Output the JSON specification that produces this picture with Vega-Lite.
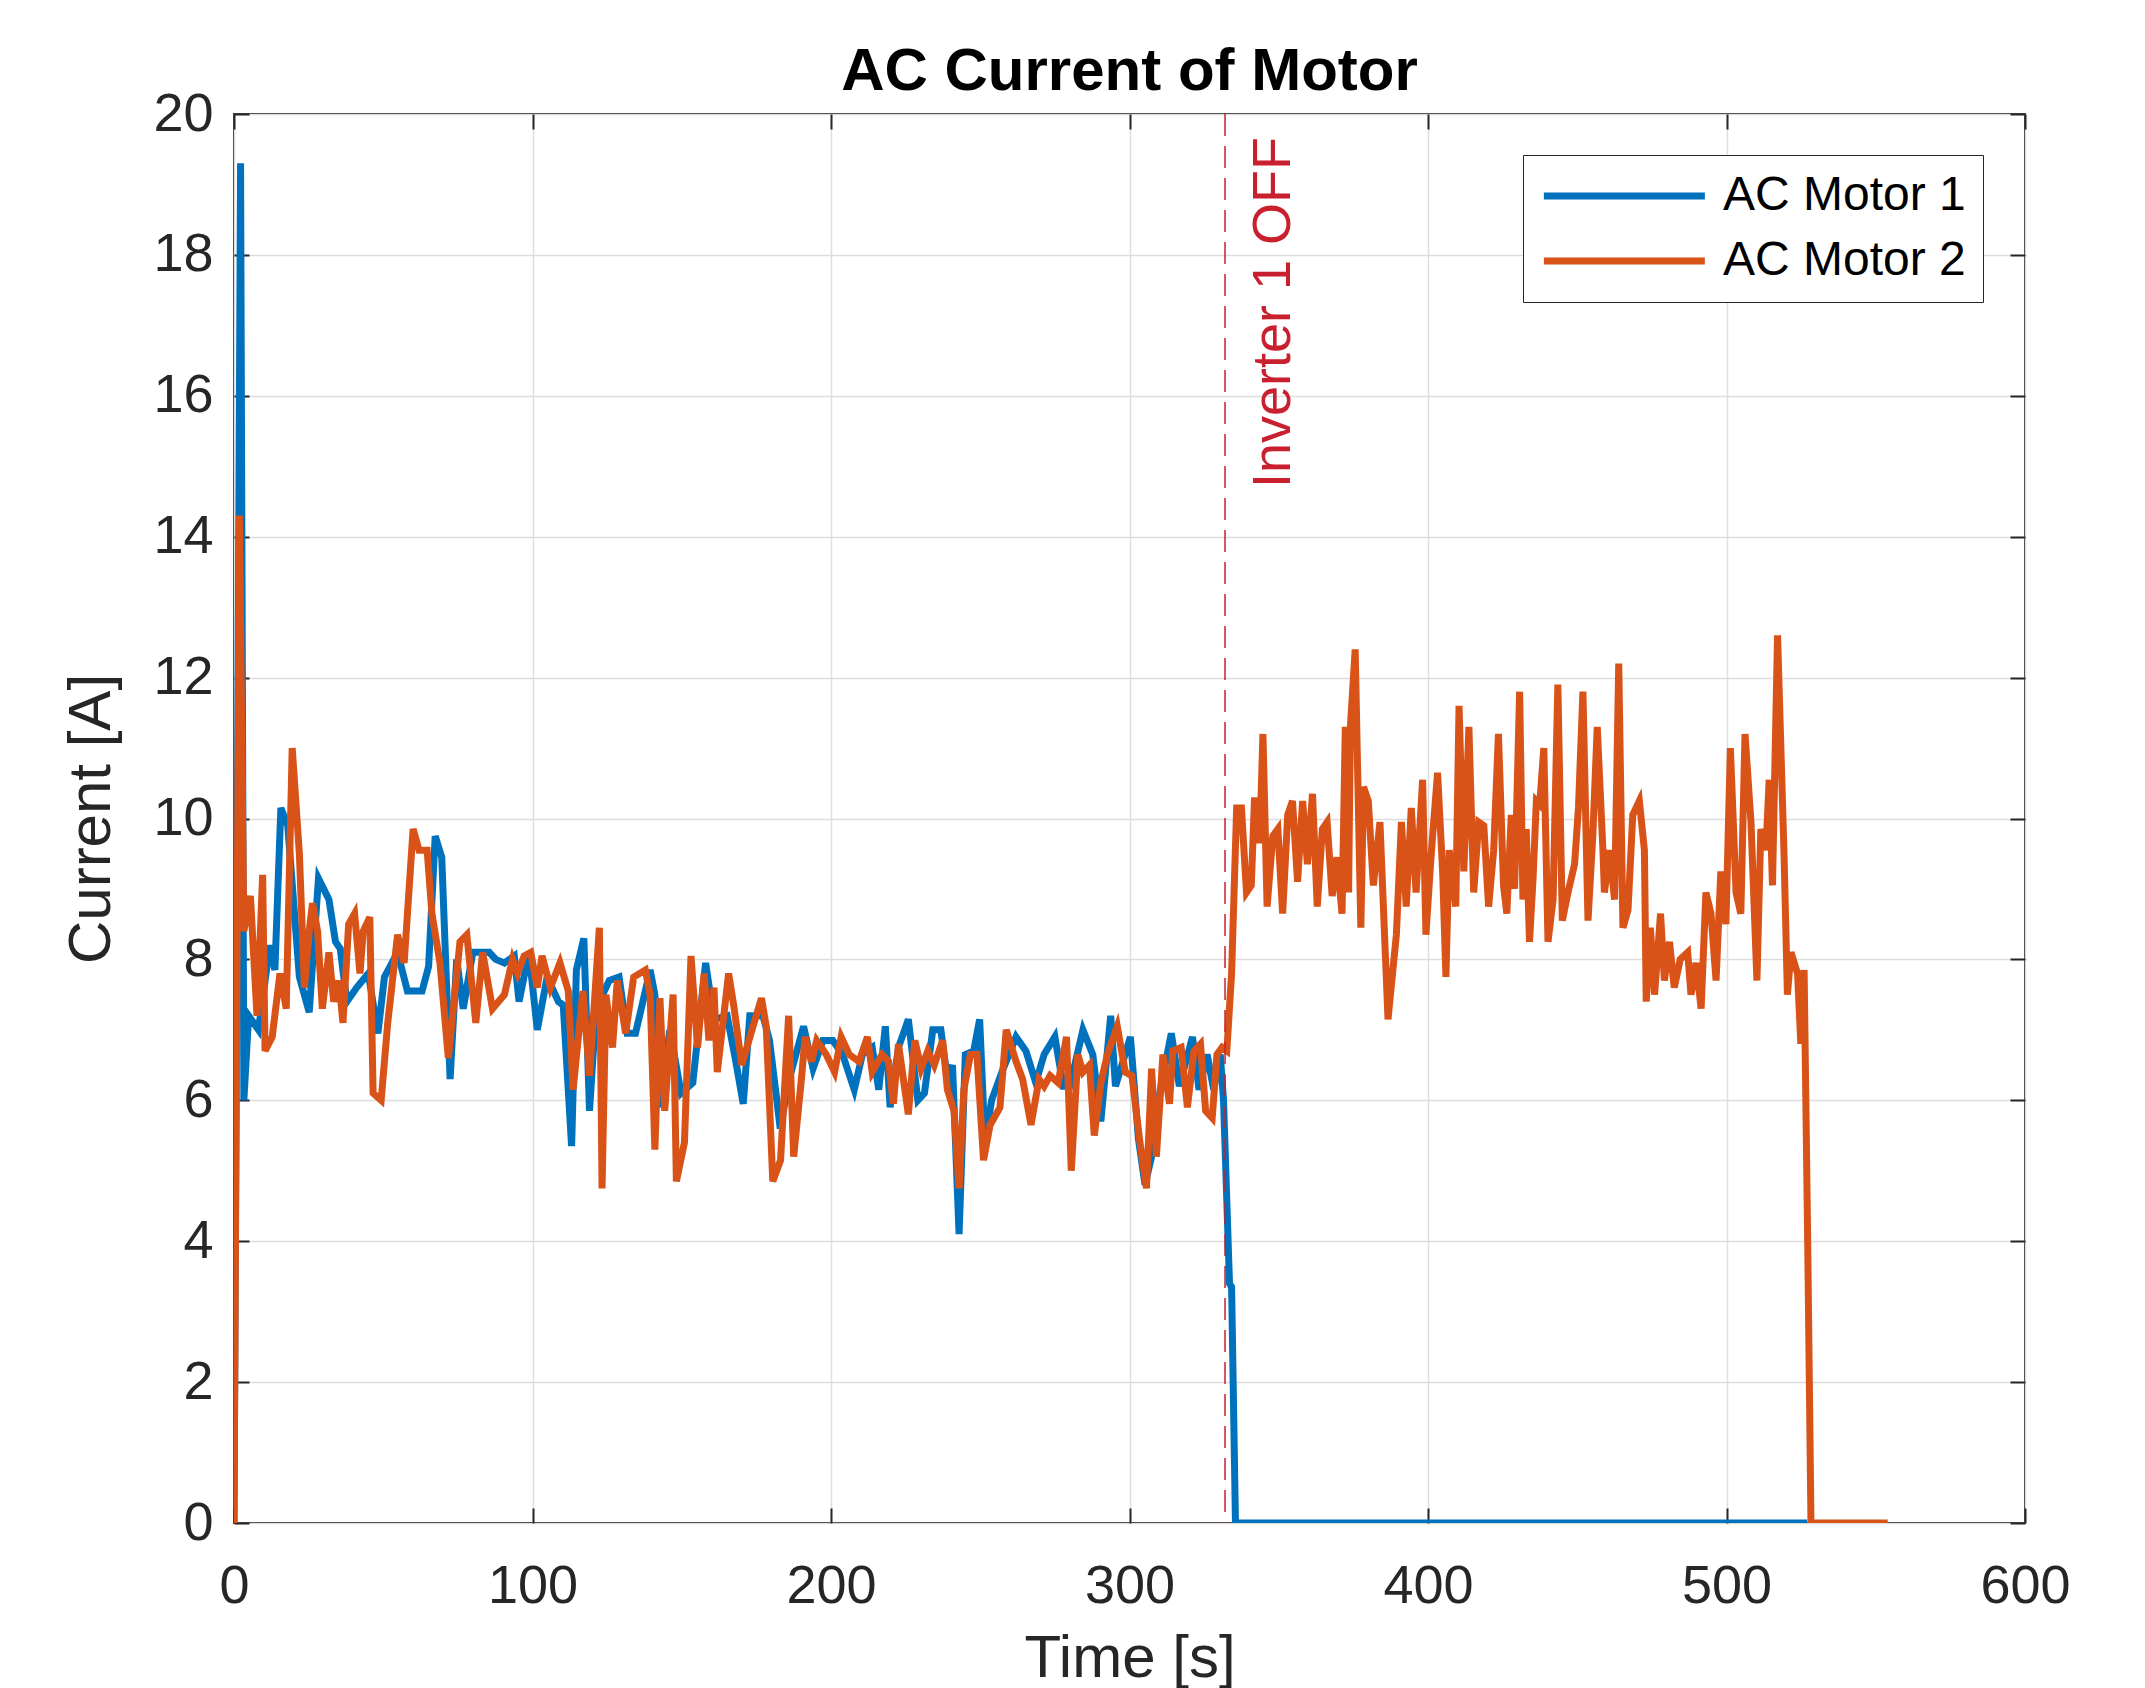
{
"$schema": "https://vega.github.io/schema/vega-lite/v6.json",
"width": 1791, "height": 1409,
"autosize": {"type": "none"},
"padding": {"left": 234, "top": 114, "right": 120, "bottom": 165},
"background": "white",
"title": {"text": "AC Current of Motor", "fontSize": 60, "font": "Liberation Sans", "fontWeight": "bold", "color": "#000000", "anchor": "middle", "frame": "group", "baseline": "alphabetic", "offset": 24, "dy": 87},
"config": {
  "view": {"stroke": "#262626", "strokeWidth": 2},
  "axis": {"labelFont": "Liberation Sans", "titleFont": "Liberation Sans", "labelFontSize": 54, "titleFontSize": 60, "labelColor": "#262626", "titleColor": "#262626", "titleFontWeight": "normal", "gridColor": "#DDDDDD", "gridWidth": 1.5, "tickColor": "#262626", "tickSize": -15, "tickWidth": 2, "domain": false, "labelFlush": false}
},
"resolve": {"axis": {"x": "independent", "y": "independent"}},
"layer": [
{
  "data": {"values": [
{"t":0,"I":0,"m":"AC Motor 1"},{"t":2.2,"I":19.3,"m":"AC Motor 1"},{"t":3.3,"I":6.0,"m":"AC Motor 1"},{"t":4.9,"I":7.2,"m":"AC Motor 1"},{"t":8.2,"I":7.0,"m":"AC Motor 1"},{"t":12,"I":8.2,"m":"AC Motor 1"},{"t":13.7,"I":7.85,"m":"AC Motor 1"},{"t":15.7,"I":10.15,"m":"AC Motor 1"},{"t":18,"I":9.9,"m":"AC Motor 1"},{"t":21.9,"I":7.75,"m":"AC Motor 1"},{"t":25.2,"I":7.25,"m":"AC Motor 1"},{"t":28.3,"I":9.15,"m":"AC Motor 1"},{"t":31.8,"I":8.85,"m":"AC Motor 1"},{"t":34,"I":8.25,"m":"AC Motor 1"},{"t":35.6,"I":8.15,"m":"AC Motor 1"},{"t":37.8,"I":7.4,"m":"AC Motor 1"},{"t":41.1,"I":7.6,"m":"AC Motor 1"},{"t":45,"I":7.8,"m":"AC Motor 1"},{"t":48.2,"I":6.95,"m":"AC Motor 1"},{"t":50.4,"I":7.75,"m":"AC Motor 1"},{"t":54.8,"I":8.1,"m":"AC Motor 1"},{"t":58.1,"I":7.55,"m":"AC Motor 1"},{"t":63,"I":7.55,"m":"AC Motor 1"},{"t":65.2,"I":7.9,"m":"AC Motor 1"},{"t":67.4,"I":9.75,"m":"AC Motor 1"},{"t":69.6,"I":9.45,"m":"AC Motor 1"},{"t":72.4,"I":6.3,"m":"AC Motor 1"},{"t":74.6,"I":8.0,"m":"AC Motor 1"},{"t":76.8,"I":7.3,"m":"AC Motor 1"},{"t":80,"I":8.1,"m":"AC Motor 1"},{"t":85.5,"I":8.1,"m":"AC Motor 1"},{"t":87.7,"I":8.0,"m":"AC Motor 1"},{"t":90.6,"I":7.95,"m":"AC Motor 1"},{"t":93.9,"I":8.05,"m":"AC Motor 1"},{"t":95.5,"I":7.4,"m":"AC Motor 1"},{"t":98.8,"I":8.1,"m":"AC Motor 1"},{"t":101.6,"I":7.0,"m":"AC Motor 1"},{"t":104.9,"I":7.75,"m":"AC Motor 1"},{"t":108.7,"I":7.4,"m":"AC Motor 1"},{"t":110.3,"I":7.35,"m":"AC Motor 1"},{"t":113.1,"I":5.35,"m":"AC Motor 1"},{"t":114.7,"I":7.85,"m":"AC Motor 1"},{"t":117.2,"I":8.3,"m":"AC Motor 1"},{"t":119.1,"I":5.85,"m":"AC Motor 1"},{"t":121.3,"I":7.3,"m":"AC Motor 1"},{"t":125.7,"I":7.7,"m":"AC Motor 1"},{"t":129,"I":7.75,"m":"AC Motor 1"},{"t":131.7,"I":6.95,"m":"AC Motor 1"},{"t":134.5,"I":6.95,"m":"AC Motor 1"},{"t":136.7,"I":7.35,"m":"AC Motor 1"},{"t":139.4,"I":7.85,"m":"AC Motor 1"},{"t":141,"I":7.5,"m":"AC Motor 1"},{"t":142.7,"I":5.9,"m":"AC Motor 1"},{"t":146,"I":7.0,"m":"AC Motor 1"},{"t":149.8,"I":6.1,"m":"AC Motor 1"},{"t":153.7,"I":6.25,"m":"AC Motor 1"},{"t":158,"I":7.95,"m":"AC Motor 1"},{"t":160.8,"I":7.15,"m":"AC Motor 1"},{"t":165.2,"I":7.2,"m":"AC Motor 1"},{"t":167.9,"I":6.6,"m":"AC Motor 1"},{"t":170.6,"I":5.95,"m":"AC Motor 1"},{"t":172.8,"I":7.2,"m":"AC Motor 1"},{"t":177.2,"I":7.2,"m":"AC Motor 1"},{"t":179.4,"I":6.85,"m":"AC Motor 1"},{"t":183,"I":5.6,"m":"AC Motor 1"},{"t":186,"I":6.3,"m":"AC Motor 1"},{"t":190.8,"I":7.05,"m":"AC Motor 1"},{"t":194,"I":6.45,"m":"AC Motor 1"},{"t":197.3,"I":6.85,"m":"AC Motor 1"},{"t":200.6,"I":6.85,"m":"AC Motor 1"},{"t":203.9,"I":6.65,"m":"AC Motor 1"},{"t":207.8,"I":6.15,"m":"AC Motor 1"},{"t":210.5,"I":6.65,"m":"AC Motor 1"},{"t":213.8,"I":6.75,"m":"AC Motor 1"},{"t":216,"I":6.15,"m":"AC Motor 1"},{"t":218.2,"I":7.05,"m":"AC Motor 1"},{"t":219.8,"I":5.9,"m":"AC Motor 1"},{"t":222.6,"I":6.75,"m":"AC Motor 1"},{"t":225.9,"I":7.15,"m":"AC Motor 1"},{"t":229.1,"I":6.0,"m":"AC Motor 1"},{"t":231.3,"I":6.1,"m":"AC Motor 1"},{"t":234.1,"I":7.0,"m":"AC Motor 1"},{"t":236.8,"I":7.0,"m":"AC Motor 1"},{"t":239,"I":6.3,"m":"AC Motor 1"},{"t":240.7,"I":6.5,"m":"AC Motor 1"},{"t":242.9,"I":4.1,"m":"AC Motor 1"},{"t":245,"I":6.65,"m":"AC Motor 1"},{"t":247.8,"I":6.7,"m":"AC Motor 1"},{"t":249.8,"I":7.15,"m":"AC Motor 1"},{"t":251.6,"I":5.4,"m":"AC Motor 1"},{"t":253.8,"I":6.0,"m":"AC Motor 1"},{"t":257.7,"I":6.45,"m":"AC Motor 1"},{"t":262,"I":6.9,"m":"AC Motor 1"},{"t":265.3,"I":6.7,"m":"AC Motor 1"},{"t":268.6,"I":6.25,"m":"AC Motor 1"},{"t":271.4,"I":6.65,"m":"AC Motor 1"},{"t":275,"I":6.9,"m":"AC Motor 1"},{"t":277.8,"I":6.2,"m":"AC Motor 1"},{"t":280,"I":6.2,"m":"AC Motor 1"},{"t":284.4,"I":7.0,"m":"AC Motor 1"},{"t":287.7,"I":6.65,"m":"AC Motor 1"},{"t":290.4,"I":5.7,"m":"AC Motor 1"},{"t":293.7,"I":7.2,"m":"AC Motor 1"},{"t":295.3,"I":6.2,"m":"AC Motor 1"},{"t":300.3,"I":6.9,"m":"AC Motor 1"},{"t":303,"I":5.45,"m":"AC Motor 1"},{"t":305.2,"I":4.8,"m":"AC Motor 1"},{"t":307.4,"I":5.2,"m":"AC Motor 1"},{"t":310.1,"I":6.1,"m":"AC Motor 1"},{"t":314,"I":6.95,"m":"AC Motor 1"},{"t":316.7,"I":6.2,"m":"AC Motor 1"},{"t":321.1,"I":6.9,"m":"AC Motor 1"},{"t":323.3,"I":6.15,"m":"AC Motor 1"},{"t":326,"I":6.65,"m":"AC Motor 1"},{"t":328.2,"I":6.15,"m":"AC Motor 1"},{"t":330.4,"I":6.65,"m":"AC Motor 1"},{"t":331.5,"I":6.0,"m":"AC Motor 1"},{"t":333.5,"I":3.4,"m":"AC Motor 1"},{"t":334.2,"I":3.35,"m":"AC Motor 1"},{"t":335.5,"I":0,"m":"AC Motor 1"},{"t":527,"I":0,"m":"AC Motor 1"},
{"t":0,"I":0,"m":"AC Motor 2"},{"t":1.8,"I":14.3,"m":"AC Motor 2"},{"t":3.3,"I":8.4,"m":"AC Motor 2"},{"t":5.5,"I":8.9,"m":"AC Motor 2"},{"t":7.7,"I":7.2,"m":"AC Motor 2"},{"t":9.6,"I":9.2,"m":"AC Motor 2"},{"t":10.4,"I":6.7,"m":"AC Motor 2"},{"t":12.8,"I":6.9,"m":"AC Motor 2"},{"t":15.4,"I":7.8,"m":"AC Motor 2"},{"t":17.5,"I":7.3,"m":"AC Motor 2"},{"t":19.5,"I":11.0,"m":"AC Motor 2"},{"t":21.9,"I":9.5,"m":"AC Motor 2"},{"t":23.6,"I":7.6,"m":"AC Motor 2"},{"t":25.2,"I":8.4,"m":"AC Motor 2"},{"t":26.3,"I":8.8,"m":"AC Motor 2"},{"t":28,"I":8.4,"m":"AC Motor 2"},{"t":29.6,"I":7.3,"m":"AC Motor 2"},{"t":31.8,"I":8.1,"m":"AC Motor 2"},{"t":33.4,"I":7.4,"m":"AC Motor 2"},{"t":35.1,"I":7.7,"m":"AC Motor 2"},{"t":36.5,"I":7.1,"m":"AC Motor 2"},{"t":38.4,"I":8.5,"m":"AC Motor 2"},{"t":40.4,"I":8.65,"m":"AC Motor 2"},{"t":42.2,"I":7.8,"m":"AC Motor 2"},{"t":43.3,"I":8.4,"m":"AC Motor 2"},{"t":45.5,"I":8.6,"m":"AC Motor 2"},{"t":46.6,"I":6.1,"m":"AC Motor 2"},{"t":49.3,"I":6.0,"m":"AC Motor 2"},{"t":51.5,"I":7.1,"m":"AC Motor 2"},{"t":54.8,"I":8.35,"m":"AC Motor 2"},{"t":57,"I":7.95,"m":"AC Motor 2"},{"t":60,"I":9.85,"m":"AC Motor 2"},{"t":62,"I":9.55,"m":"AC Motor 2"},{"t":64.7,"I":9.55,"m":"AC Motor 2"},{"t":66.3,"I":8.65,"m":"AC Motor 2"},{"t":69,"I":7.95,"m":"AC Motor 2"},{"t":71.8,"I":6.6,"m":"AC Motor 2"},{"t":75.7,"I":8.25,"m":"AC Motor 2"},{"t":78,"I":8.35,"m":"AC Motor 2"},{"t":81,"I":7.1,"m":"AC Motor 2"},{"t":83.3,"I":8.1,"m":"AC Motor 2"},{"t":86.6,"I":7.3,"m":"AC Motor 2"},{"t":90.6,"I":7.5,"m":"AC Motor 2"},{"t":93.3,"I":8.0,"m":"AC Motor 2"},{"t":95,"I":7.8,"m":"AC Motor 2"},{"t":97.2,"I":8.05,"m":"AC Motor 2"},{"t":99.4,"I":8.1,"m":"AC Motor 2"},{"t":101.6,"I":7.6,"m":"AC Motor 2"},{"t":103.2,"I":8.05,"m":"AC Motor 2"},{"t":106,"I":7.6,"m":"AC Motor 2"},{"t":109.2,"I":7.95,"m":"AC Motor 2"},{"t":112,"I":7.55,"m":"AC Motor 2"},{"t":113.6,"I":6.15,"m":"AC Motor 2"},{"t":116.9,"I":7.55,"m":"AC Motor 2"},{"t":119.1,"I":6.35,"m":"AC Motor 2"},{"t":122.4,"I":8.45,"m":"AC Motor 2"},{"t":123.3,"I":4.75,"m":"AC Motor 2"},{"t":124.6,"I":7.5,"m":"AC Motor 2"},{"t":126.8,"I":6.75,"m":"AC Motor 2"},{"t":128.4,"I":7.7,"m":"AC Motor 2"},{"t":131.2,"I":6.95,"m":"AC Motor 2"},{"t":133.9,"I":7.75,"m":"AC Motor 2"},{"t":137.8,"I":7.85,"m":"AC Motor 2"},{"t":139.4,"I":7.5,"m":"AC Motor 2"},{"t":141,"I":5.3,"m":"AC Motor 2"},{"t":142.7,"I":7.45,"m":"AC Motor 2"},{"t":144.3,"I":5.85,"m":"AC Motor 2"},{"t":147.1,"I":7.5,"m":"AC Motor 2"},{"t":148.2,"I":4.85,"m":"AC Motor 2"},{"t":150.9,"I":5.4,"m":"AC Motor 2"},{"t":153.1,"I":8.05,"m":"AC Motor 2"},{"t":155.3,"I":6.75,"m":"AC Motor 2"},{"t":157.5,"I":7.8,"m":"AC Motor 2"},{"t":159.1,"I":6.85,"m":"AC Motor 2"},{"t":160.8,"I":7.6,"m":"AC Motor 2"},{"t":161.9,"I":6.4,"m":"AC Motor 2"},{"t":165.7,"I":7.8,"m":"AC Motor 2"},{"t":167.4,"I":7.35,"m":"AC Motor 2"},{"t":170.1,"I":6.5,"m":"AC Motor 2"},{"t":173.9,"I":7.05,"m":"AC Motor 2"},{"t":176.7,"I":7.45,"m":"AC Motor 2"},{"t":178.3,"I":7.05,"m":"AC Motor 2"},{"t":180.5,"I":4.85,"m":"AC Motor 2"},{"t":183.1,"I":5.15,"m":"AC Motor 2"},{"t":185.8,"I":7.2,"m":"AC Motor 2"},{"t":187.5,"I":5.2,"m":"AC Motor 2"},{"t":190.2,"I":6.35,"m":"AC Motor 2"},{"t":191.3,"I":6.9,"m":"AC Motor 2"},{"t":193.5,"I":6.55,"m":"AC Motor 2"},{"t":195.2,"I":6.85,"m":"AC Motor 2"},{"t":198.4,"I":6.65,"m":"AC Motor 2"},{"t":201.2,"I":6.4,"m":"AC Motor 2"},{"t":203.4,"I":6.9,"m":"AC Motor 2"},{"t":206.1,"I":6.65,"m":"AC Motor 2"},{"t":209.4,"I":6.55,"m":"AC Motor 2"},{"t":212.2,"I":6.9,"m":"AC Motor 2"},{"t":213.8,"I":6.4,"m":"AC Motor 2"},{"t":217.1,"I":6.65,"m":"AC Motor 2"},{"t":219.3,"I":6.55,"m":"AC Motor 2"},{"t":220.9,"I":5.95,"m":"AC Motor 2"},{"t":222.6,"I":6.8,"m":"AC Motor 2"},{"t":225.9,"I":5.8,"m":"AC Motor 2"},{"t":228.1,"I":6.85,"m":"AC Motor 2"},{"t":230.2,"I":6.45,"m":"AC Motor 2"},{"t":232.4,"I":6.7,"m":"AC Motor 2"},{"t":234.6,"I":6.5,"m":"AC Motor 2"},{"t":237.4,"I":6.85,"m":"AC Motor 2"},{"t":239,"I":6.15,"m":"AC Motor 2"},{"t":241.2,"I":5.85,"m":"AC Motor 2"},{"t":242.9,"I":4.75,"m":"AC Motor 2"},{"t":244.5,"I":6.15,"m":"AC Motor 2"},{"t":246.7,"I":6.65,"m":"AC Motor 2"},{"t":248.9,"I":6.65,"m":"AC Motor 2"},{"t":251.1,"I":5.15,"m":"AC Motor 2"},{"t":253.3,"I":5.65,"m":"AC Motor 2"},{"t":256.6,"I":5.9,"m":"AC Motor 2"},{"t":258.7,"I":7.0,"m":"AC Motor 2"},{"t":262,"I":6.55,"m":"AC Motor 2"},{"t":264.2,"I":6.3,"m":"AC Motor 2"},{"t":267,"I":5.65,"m":"AC Motor 2"},{"t":269.7,"I":6.3,"m":"AC Motor 2"},{"t":271.4,"I":6.2,"m":"AC Motor 2"},{"t":273.4,"I":6.35,"m":"AC Motor 2"},{"t":276.1,"I":6.25,"m":"AC Motor 2"},{"t":278.9,"I":6.9,"m":"AC Motor 2"},{"t":280.5,"I":5.0,"m":"AC Motor 2"},{"t":282.7,"I":6.65,"m":"AC Motor 2"},{"t":284.4,"I":6.4,"m":"AC Motor 2"},{"t":286.6,"I":6.5,"m":"AC Motor 2"},{"t":288.2,"I":5.5,"m":"AC Motor 2"},{"t":290.4,"I":6.25,"m":"AC Motor 2"},{"t":292.6,"I":6.65,"m":"AC Motor 2"},{"t":295.9,"I":7.05,"m":"AC Motor 2"},{"t":298.6,"I":6.4,"m":"AC Motor 2"},{"t":300.8,"I":6.35,"m":"AC Motor 2"},{"t":303.5,"I":5.4,"m":"AC Motor 2"},{"t":305.7,"I":4.75,"m":"AC Motor 2"},{"t":307.4,"I":6.45,"m":"AC Motor 2"},{"t":309,"I":5.2,"m":"AC Motor 2"},{"t":311.2,"I":6.65,"m":"AC Motor 2"},{"t":313.4,"I":5.95,"m":"AC Motor 2"},{"t":314.5,"I":6.7,"m":"AC Motor 2"},{"t":317.3,"I":6.75,"m":"AC Motor 2"},{"t":319.4,"I":5.9,"m":"AC Motor 2"},{"t":321.6,"I":6.7,"m":"AC Motor 2"},{"t":323.8,"I":6.8,"m":"AC Motor 2"},{"t":325.5,"I":5.85,"m":"AC Motor 2"},{"t":327.7,"I":5.75,"m":"AC Motor 2"},{"t":329.3,"I":6.65,"m":"AC Motor 2"},{"t":331,"I":6.75,"m":"AC Motor 2"},{"t":332.6,"I":6.7,"m":"AC Motor 2"},{"t":334.2,"I":7.8,"m":"AC Motor 2"},{"t":335.9,"I":10.15,"m":"AC Motor 2"},{"t":337.5,"I":10.15,"m":"AC Motor 2"},{"t":339.2,"I":8.95,"m":"AC Motor 2"},{"t":340.8,"I":9.05,"m":"AC Motor 2"},{"t":341.9,"I":10.3,"m":"AC Motor 2"},{"t":343.6,"I":9.65,"m":"AC Motor 2"},{"t":344.7,"I":11.2,"m":"AC Motor 2"},{"t":346.1,"I":8.75,"m":"AC Motor 2"},{"t":348,"I":9.75,"m":"AC Motor 2"},{"t":349.7,"I":9.85,"m":"AC Motor 2"},{"t":351.3,"I":8.65,"m":"AC Motor 2"},{"t":353,"I":10.05,"m":"AC Motor 2"},{"t":354.6,"I":10.25,"m":"AC Motor 2"},{"t":356.3,"I":9.1,"m":"AC Motor 2"},{"t":358,"I":10.25,"m":"AC Motor 2"},{"t":359.6,"I":9.35,"m":"AC Motor 2"},{"t":361.3,"I":10.35,"m":"AC Motor 2"},{"t":362.9,"I":8.75,"m":"AC Motor 2"},{"t":364.6,"I":9.85,"m":"AC Motor 2"},{"t":366.2,"I":9.95,"m":"AC Motor 2"},{"t":367.9,"I":8.9,"m":"AC Motor 2"},{"t":369.5,"I":9.45,"m":"AC Motor 2"},{"t":371.2,"I":8.65,"m":"AC Motor 2"},{"t":372.3,"I":11.3,"m":"AC Motor 2"},{"t":373.4,"I":8.95,"m":"AC Motor 2"},{"t":374,"I":11.3,"m":"AC Motor 2"},{"t":375.6,"I":12.4,"m":"AC Motor 2"},{"t":377.5,"I":8.45,"m":"AC Motor 2"},{"t":378.4,"I":10.45,"m":"AC Motor 2"},{"t":380,"I":10.25,"m":"AC Motor 2"},{"t":381.7,"I":9.05,"m":"AC Motor 2"},{"t":383.9,"I":9.95,"m":"AC Motor 2"},{"t":386.6,"I":7.15,"m":"AC Motor 2"},{"t":389.4,"I":8.35,"m":"AC Motor 2"},{"t":391.1,"I":9.95,"m":"AC Motor 2"},{"t":392.7,"I":8.75,"m":"AC Motor 2"},{"t":394.4,"I":10.15,"m":"AC Motor 2"},{"t":396,"I":8.95,"m":"AC Motor 2"},{"t":398.2,"I":10.55,"m":"AC Motor 2"},{"t":399.3,"I":8.35,"m":"AC Motor 2"},{"t":401,"I":9.45,"m":"AC Motor 2"},{"t":403.2,"I":10.65,"m":"AC Motor 2"},{"t":404.9,"I":9.25,"m":"AC Motor 2"},{"t":406,"I":7.75,"m":"AC Motor 2"},{"t":407.1,"I":9.55,"m":"AC Motor 2"},{"t":409.3,"I":8.75,"m":"AC Motor 2"},{"t":410.4,"I":11.6,"m":"AC Motor 2"},{"t":412,"I":9.25,"m":"AC Motor 2"},{"t":413.7,"I":11.3,"m":"AC Motor 2"},{"t":415.3,"I":8.95,"m":"AC Motor 2"},{"t":417,"I":9.95,"m":"AC Motor 2"},{"t":418.7,"I":9.9,"m":"AC Motor 2"},{"t":420.3,"I":8.75,"m":"AC Motor 2"},{"t":422,"I":9.55,"m":"AC Motor 2"},{"t":423.6,"I":11.2,"m":"AC Motor 2"},{"t":425.3,"I":9.05,"m":"AC Motor 2"},{"t":426.4,"I":8.65,"m":"AC Motor 2"},{"t":427.9,"I":10.05,"m":"AC Motor 2"},{"t":429,"I":9.0,"m":"AC Motor 2"},{"t":430.7,"I":11.8,"m":"AC Motor 2"},{"t":431.8,"I":8.85,"m":"AC Motor 2"},{"t":432.9,"I":9.85,"m":"AC Motor 2"},{"t":434,"I":8.25,"m":"AC Motor 2"},{"t":435.2,"I":9.15,"m":"AC Motor 2"},{"t":436.3,"I":10.25,"m":"AC Motor 2"},{"t":437.4,"I":10.2,"m":"AC Motor 2"},{"t":438.8,"I":11.0,"m":"AC Motor 2"},{"t":440.2,"I":8.25,"m":"AC Motor 2"},{"t":441.9,"I":8.85,"m":"AC Motor 2"},{"t":443.5,"I":11.9,"m":"AC Motor 2"},{"t":445,"I":8.55,"m":"AC Motor 2"},{"t":446.9,"I":8.95,"m":"AC Motor 2"},{"t":449.1,"I":9.35,"m":"AC Motor 2"},{"t":450.4,"I":10.15,"m":"AC Motor 2"},{"t":451.9,"I":11.8,"m":"AC Motor 2"},{"t":453.6,"I":8.55,"m":"AC Motor 2"},{"t":455.2,"I":9.75,"m":"AC Motor 2"},{"t":456.7,"I":11.3,"m":"AC Motor 2"},{"t":458.6,"I":9.55,"m":"AC Motor 2"},{"t":459.1,"I":8.95,"m":"AC Motor 2"},{"t":460.8,"I":9.55,"m":"AC Motor 2"},{"t":462.5,"I":8.85,"m":"AC Motor 2"},{"t":463.9,"I":12.2,"m":"AC Motor 2"},{"t":465.3,"I":8.45,"m":"AC Motor 2"},{"t":467,"I":8.7,"m":"AC Motor 2"},{"t":468.6,"I":10.05,"m":"AC Motor 2"},{"t":470.8,"I":10.25,"m":"AC Motor 2"},{"t":472.5,"I":9.55,"m":"AC Motor 2"},{"t":473.1,"I":7.4,"m":"AC Motor 2"},{"t":474.5,"I":8.45,"m":"AC Motor 2"},{"t":475.9,"I":7.5,"m":"AC Motor 2"},{"t":477.9,"I":8.65,"m":"AC Motor 2"},{"t":479.2,"I":7.7,"m":"AC Motor 2"},{"t":480.9,"I":8.25,"m":"AC Motor 2"},{"t":482.5,"I":7.6,"m":"AC Motor 2"},{"t":484.5,"I":8.0,"m":"AC Motor 2"},{"t":487,"I":8.1,"m":"AC Motor 2"},{"t":488.1,"I":7.5,"m":"AC Motor 2"},{"t":489.8,"I":7.95,"m":"AC Motor 2"},{"t":491.5,"I":7.3,"m":"AC Motor 2"},{"t":493.1,"I":8.95,"m":"AC Motor 2"},{"t":494.8,"I":8.65,"m":"AC Motor 2"},{"t":496.5,"I":7.7,"m":"AC Motor 2"},{"t":498.1,"I":9.25,"m":"AC Motor 2"},{"t":499.8,"I":8.5,"m":"AC Motor 2"},{"t":501.3,"I":11.0,"m":"AC Motor 2"},{"t":503.2,"I":8.95,"m":"AC Motor 2"},{"t":504.8,"I":8.65,"m":"AC Motor 2"},{"t":506.2,"I":11.2,"m":"AC Motor 2"},{"t":508.2,"I":9.95,"m":"AC Motor 2"},{"t":510.2,"I":7.7,"m":"AC Motor 2"},{"t":511.5,"I":9.85,"m":"AC Motor 2"},{"t":513.2,"I":9.55,"m":"AC Motor 2"},{"t":514.3,"I":10.55,"m":"AC Motor 2"},{"t":515.4,"I":9.05,"m":"AC Motor 2"},{"t":517.1,"I":12.6,"m":"AC Motor 2"},{"t":519.3,"I":9.45,"m":"AC Motor 2"},{"t":520.4,"I":7.5,"m":"AC Motor 2"},{"t":521.6,"I":8.1,"m":"AC Motor 2"},{"t":523.8,"I":7.8,"m":"AC Motor 2"},{"t":524.9,"I":6.8,"m":"AC Motor 2"},{"t":526,"I":7.85,"m":"AC Motor 2"},{"t":527.2,"I":4.0,"m":"AC Motor 2"},{"t":528.3,"I":0,"m":"AC Motor 2"},{"t":554,"I":0,"m":"AC Motor 2"}
  ]},
  "mark": {"type": "line", "strokeWidth": 7, "clip": true},
  "encoding": {
    "x": {"field": "t", "type": "quantitative", "scale": {"domain": [0, 600], "nice": false, "zero": false},
          "axis": {"orient": "bottom", "title": "Time [s]", "values": [0,100,200,300,400,500,600], "labelPadding": 51, "titlePadding": 16, "grid": true}},
    "y": {"field": "I", "type": "quantitative", "scale": {"domain": [0, 20], "nice": false},
          "axis": {"orient": "left", "title": "Current [A]", "values": [0,2,4,6,8,10,12,14,16,18,20], "labelPadding": 36, "titlePadding": 30, "grid": true}},
    "color": {"field": "m", "type": "nominal",
      "scale": {"domain": ["AC Motor 1", "AC Motor 2"], "range": ["#0072BD", "#D95319"]},
      "legend": {"title": null, "orient": "none", "legendX": 1289, "legendY": 41, "symbolType": "M-1,0H7", "symbolSize": 1620, "symbolStrokeWidth": 7, "labelFontSize": 48, "labelFont": "Liberation Sans", "labelColor": "#000000", "labelOffset": 135, "padding": 17, "rowPadding": 17, "strokeColor": "#262626", "fillColor": "white", "labelLimit": 500}}
  }
},
{
  "data": {"values": [{"t": 332}]},
  "mark": {"type": "rule", "color": "#C8202F", "strokeDash": [22, 10], "strokeWidth": 1.5},
  "encoding": {"x": {"field": "t", "type": "quantitative", "scale": {"domain": [0, 600], "nice": false}, "axis": null}}
},
{
  "data": {"values": [{"t": 332, "y": 20, "label": "Inverter 1 OFF"}]},
  "mark": {"type": "text", "angle": 270, "align": "right", "baseline": "top", "dx": -23, "dy": 22, "fontSize": 54, "font": "Liberation Sans", "color": "#C8202F"},
  "encoding": {
    "x": {"field": "t", "type": "quantitative", "scale": {"domain": [0, 600], "nice": false},
          "axis": {"orient": "top", "labels": false, "title": null, "grid": false, "values": [0,100,200,300,400,500,600]}},
    "y": {"field": "y", "type": "quantitative", "scale": {"domain": [0, 20], "nice": false},
          "axis": {"orient": "right", "labels": false, "title": null, "grid": false, "values": [0,2,4,6,8,10,12,14,16,18,20]}},
    "text": {"field": "label"}
  }
}
]
}
